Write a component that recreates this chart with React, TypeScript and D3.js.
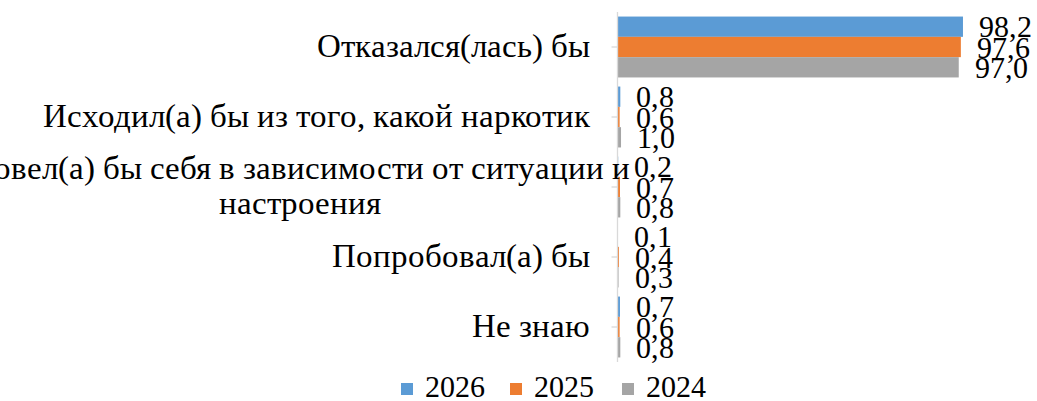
import React from "react";
import * as d3 from "d3";

const categories = [
  "Отказался(лась) бы",
  "Исходил(а) бы из того, какой наркотик",
  "Повел(а) бы себя в зависимости от ситуации и|настроения",
  "Попробовал(а) бы",
  "Не знаю",
];
const seriesNames = ["2026", "2025", "2024"];
const values2026 = [98.2, 0.8, 0.2, 0.1, 0.7];
const values2025 = [97.6, 0.6, 0.7, 0.4, 0.6];
const values2024 = [97.0, 1.0, 0.8, 0.3, 0.8];
const colors = ["#5B9BD5", "#ED7D31", "#A5A5A5"];

const W = 1037;
const H = 401;
const FONT = '"ChartSerif", "Liberation Serif"';
const fontCss = `@font-face { font-family: "ChartSerif"; src: local("Liberation Serif"), local("LiberationSerif"), local("LiberationSerif-Regular"), local("Times New Roman"), local("Tinos"), local("Tinos-Regular"); }`;

export default function App() {
  const series = [values2026, values2025, values2024];
  const x0 = 617.5;
  const x = d3.scaleLinear().domain([0, 100]).range([x0, x0 + 351.8]);
  const y = d3.scaleBand<string>().domain(categories).range([12, 362]);
  const bw = y.bandwidth();
  const inner = d3
    .scaleBand<string>()
    .domain(seriesNames)
    .range([bw * 0.065, bw * 0.935]);
  const fmt = (v: number) => d3.format(".1f")(v).replace(".", ",");
  const labelRight = 590;
  const multiCenter = 300;
  const lh = 35;
  const legX = [401, 510, 622];

  return (
    <svg
      width={W}
      height={H}
      style={{ position: "absolute", left: 0, top: 0, background: "#fff" }}
    >
      <style>{fontCss}</style>
      {series.map((vals, si) =>
        vals.map((v, i) => (
          <rect
            key={`b${si}-${i}`}
            x={x(0)}
            y={(y(categories[i]) as number) + (inner(seriesNames[si]) as number)}
            width={x(v) - x(0)}
            height={inner.bandwidth()}
            fill={colors[si]}
          />
        ))
      )}
      <g stroke="#D9D9D9" strokeWidth={1.3}>
        <line x1={x0} x2={x0} y1={12} y2={362} />
        {categories.map((c) => {
          const cy = (y(c) as number) + bw / 2;
          return <line key={c} x1={x0 - 6} x2={x0} y1={cy} y2={cy} />;
        })}
      </g>
      {series.map((vals, si) =>
        vals.map((v, i) => (
          <text
            key={`l${si}-${i}`}
            x={x(v) + 16}
            y={(y(categories[i]) as number) + (inner(seriesNames[si]) as number) + inner.bandwidth() / 2}
            dy="0.35em"
            style={{ fontFamily: FONT, fontSize: "30px" }}
            fill="#000"
          >
            {fmt(v)}
          </text>
        ))
      )}
      {categories.map((c) => {
        const lines = c.split("|");
        const cy = (y(c) as number) + bw / 2;
        const multi = lines.length > 1;
        return lines.map((ln, li) => (
          <text
            key={`c${c}-${li}`}
            x={multi ? multiCenter : labelRight}
            y={cy + (li - (lines.length - 1) / 2) * lh}
            dy="0.3em"
            textAnchor={multi ? "middle" : "end"}
            style={{ fontFamily: FONT, fontSize: "33px" }}
            fill="#000"
          >
            {ln}
          </text>
        ));
      })}
      {seriesNames.map((s, i) => (
        <g key={s}>
          <rect x={legX[i]} y={383} width={12} height={12} fill={colors[i]} />
          <text
            x={legX[i] + 24}
            y={397}
            style={{ fontFamily: FONT, fontSize: "30px" }}
            fill="#000"
          >
            {s}
          </text>
        </g>
      ))}
    </svg>
  );
}
